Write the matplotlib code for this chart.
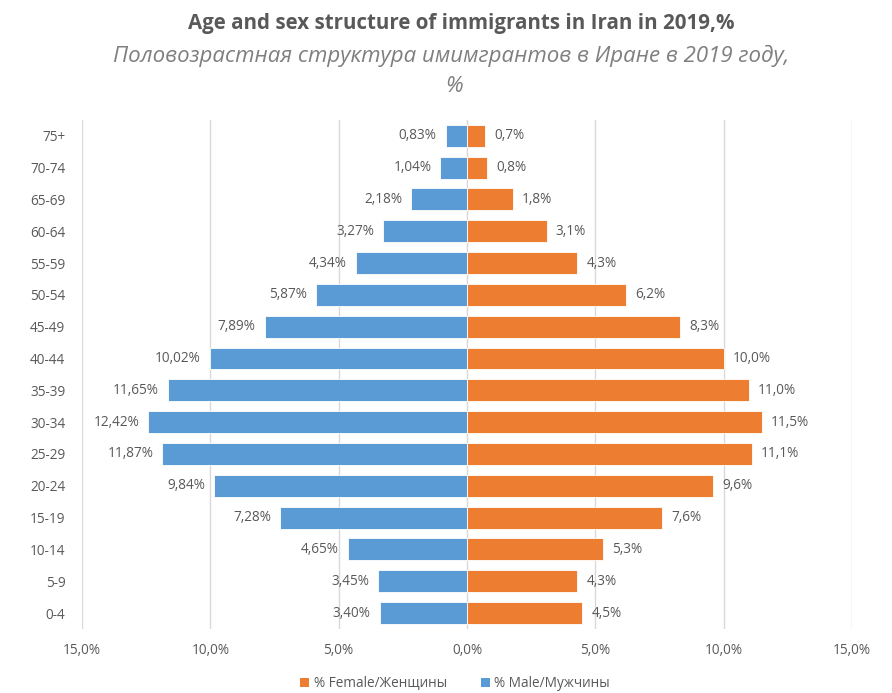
import matplotlib
matplotlib.use("Agg")
import matplotlib.pyplot as plt
from matplotlib.patches import Patch

ages = ["0-4", "5-9", "10-14", "15-19", "20-24", "25-29", "30-34", "35-39",
        "40-44", "45-49", "50-54", "55-59", "60-64", "65-69", "70-74", "75+"]
male = [3.40, 3.45, 4.65, 7.28, 9.84, 11.87, 12.42, 11.65,
        10.02, 7.89, 5.87, 4.34, 3.27, 2.18, 1.04, 0.83]
female = [4.5, 4.3, 5.3, 7.6, 9.6, 11.1, 11.5, 11.0,
          10.0, 8.3, 6.2, 4.3, 3.1, 1.8, 0.8, 0.7]
xticks = [-15, -10, -5, 0, 5, 10, 15]
xticklabels = ["15,0%", "10,0%", "5,0%", "0,0%", "5,0%", "10,0%", "15,0%"]

BLUE = "#5B9BD5"
ORANGE = "#ED7D31"
TXT = "#595959"
FONT = ["Open Sans", "DejaVu Sans"]
plt.rcParams["font.family"] = FONT

fig = plt.figure(figsize=(8.92, 6.93), dpi=100)
ax = fig.add_axes([0.092, 0.0924, 0.863, 0.7346])

y = list(range(len(ages)))
ax.barh(y, [-m for m in male], height=0.69, color=BLUE, edgecolor="white", linewidth=0.6, zorder=3)
ax.barh(y, female, height=0.69, color=ORANGE, edgecolor="white", linewidth=0.6, zorder=3)

for yi, m, f in zip(y, male, female):
    ax.text(-m - 0.35, yi, f"{m:.2f}%".replace(".", ","), ha="right", va="center",
            fontsize=9.8, color=TXT)
    ax.text(f + 0.35, yi, f"{f:.1f}%".replace(".", ","), ha="left", va="center",
            fontsize=9.8, color=TXT)

ax.set_xlim(-15, 15)
ax.set_ylim(-0.5, len(ages) - 0.5)
ax.set_xticks(xticks)
ax.set_xticklabels(xticklabels)
ax.set_yticks(y)
ax.set_yticklabels(ages)
ax.tick_params(axis="both", length=0, colors=TXT, labelsize=9.8)
ax.tick_params(axis="x", pad=10)
ax.tick_params(axis="y", pad=12)
ax.grid(axis="x", color="#D9D9D9", linewidth=1, zorder=0)
for s in ax.spines.values():
    s.set_visible(False)

fig.text(0.517, 0.966, "Age and sex structure of immigrants in Iran in 2019,%",
         ha="center", va="center", fontsize=14.8, fontweight="bold", color=TXT)
fig.text(0.506, 0.919, "Половозрастная структура имимгрантов в Иране в 2019 году,",
         ha="center", va="center", fontsize=16, style="italic", color="#7F7F7F")
fig.text(0.509, 0.875, "%", ha="center", va="center", fontsize=16, style="italic", color="#7F7F7F")

handles = [Patch(facecolor=ORANGE, label="% Female/Женщины"),
           Patch(facecolor=BLUE, label="% Male/Мужчины")]
fig.legend(handles=handles, loc="center", bbox_to_anchor=(0.51, 0.013), ncol=2,
           frameon=False, fontsize=9.8, labelcolor=TXT, handlelength=0.7, handleheight=0.7,
           handletextpad=0.3, columnspacing=2.5)

fig.savefig("out.png", dpi=100)
